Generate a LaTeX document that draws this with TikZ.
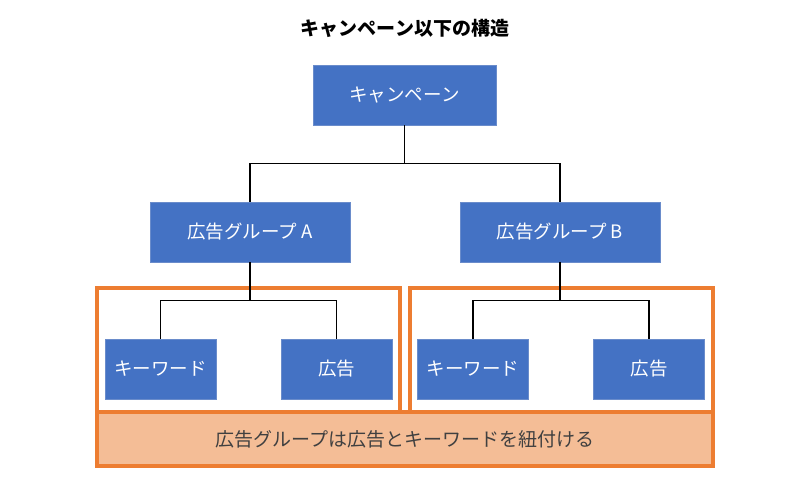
\documentclass[tikz,border=0pt]{standalone}
\usepackage{fontspec}
\setmainfont{Noto Sans CJK JP}
\usepackage{xcolor}
\usetikzlibrary{positioning}

\definecolor{boxblue}{HTML}{4472C4}
\definecolor{boxedge}{HTML}{6A8CCB}
\definecolor{frameorange}{HTML}{ED7D31}
\definecolor{notefill}{HTML}{F4BD96}
\definecolor{notetext}{HTML}{404040}

\begin{document}
\begin{tikzpicture}[
  x=1pt, y=-1pt,
  box/.style={draw=boxedge, fill=boxblue, text=white, inner sep=0pt, minimum height=60pt, font=\fontsize{18.5}{20}\selectfont},
  bigbox/.style={box, minimum width=200pt},
  leafbox/.style={box, minimum width=111pt},
  frame/.style={draw=frameorange, line width=3.4pt, inner sep=0pt},
  link/.style={draw, line width=1.3pt}
]
\useasboundingbox (0,0) rectangle (810,492);

\node[font=\fontsize{19}{21}\selectfont\bfseries] (title) at (405,28) {キャンペーン以下の構造};

\node[box, minimum width=183pt] (campaign) at (404.5,95) {キャンペーン};
\node[bigbox] (groupA) at (250,232) {広告グループ A};
\node[bigbox] (groupB) at (560,232) {広告グループ B};

% group frames
\node[frame, minimum width=303pt, minimum height=124pt] (frameA) at (248.5,350) {};
\node[frame, minimum width=303pt, minimum height=124pt] (frameB) at (561.5,350) {};
\node[frame, fill=notefill, text=notetext, minimum width=616pt, minimum height=54pt, font=\fontsize{19}{21}\selectfont] (note) at (405,439) {広告グループは広告とキーワードを紐付ける};

\node[leafbox] (keywordA) at (160.5,369) {キーワード};
\node[leafbox] (adA) at (336.5,369) {広告};
\node[leafbox] (keywordB) at (473,369) {キーワード};
\node[leafbox] (adB) at (649,369) {広告};

\draw[link] (campaign.south) -- ++(0,38) coordinate (split);
\draw[link] (split) -| (groupA);
\draw[link] (split) -| (groupB);

\draw[link] (groupA.south) -- ++(0,38) coordinate (splitA);
\draw[link] (splitA) -| (keywordA);
\draw[link] (splitA) -| (adA);

\draw[link] (groupB.south) -- ++(0,38) coordinate (splitB);
\draw[link] (splitB) -| (keywordB);
\draw[link] (splitB) -| (adB);
\end{tikzpicture}
\end{document}
